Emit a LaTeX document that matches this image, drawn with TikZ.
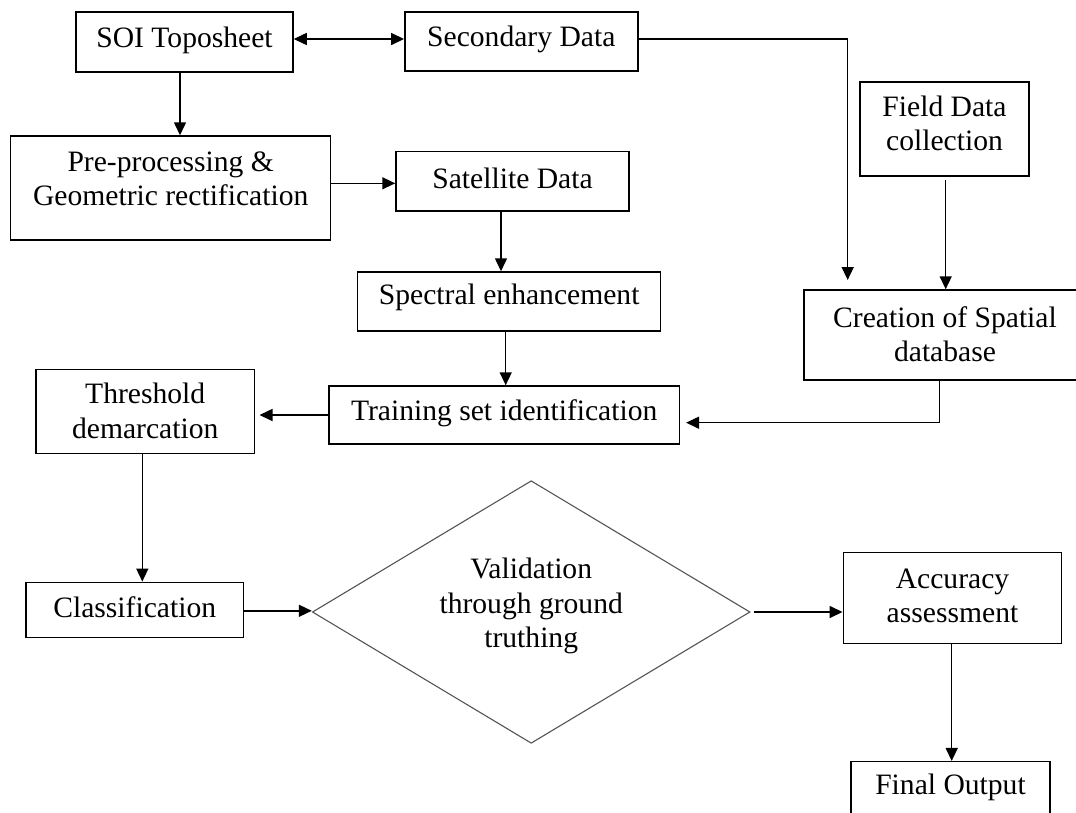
\documentclass[tikz,border=0pt]{standalone}
\usepackage{fontspec}
\setmainfont{Liberation Serif}
\usetikzlibrary{arrows.meta,shapes.geometric,calc}
\definecolor{diamgray}{HTML}{555555}
\begin{document}
\begin{tikzpicture}[x=1pt,y=-1pt,
  box/.style={draw=black, line width=1.5pt, rectangle, inner sep=0pt},
  txt/.style={align=center, font=\fontsize{29.6}{34.5}\selectfont, inner sep=0pt},
  arr/.style={line width=1.5pt, -{Triangle[length=13pt,width=12pt]}},
  biarr/.style={line width=1.5pt, {Triangle[length=13pt,width=12pt]}-{Triangle[length=13pt,width=12pt]}}
]
\useasboundingbox (0,0) rectangle (1076,812);
\fill[white] (0,0) rectangle (1076,812);
\clip (0,0) rectangle (1076,812);

% boxes
\node[box, minimum width=217pt, minimum height=60pt] (soi) at (184.5,42) {};
\node[box, minimum width=233pt, minimum height=59pt] (sec) at (521.3,41.3) {};
\node[box, minimum width=169pt, minimum height=94pt] (field) at (944.5,129) {};
\node[box, minimum width=320pt, minimum height=104pt] (pre) at (170.7,188) {};
\node[box, minimum width=233pt, minimum height=59.3pt] (sat) at (512.5,181.3) {};
\node[box, minimum width=303pt, minimum height=59pt] (spec) at (509.2,301.5) {};
\node[box, minimum width=282pt, minimum height=90pt] (creat) at (945,335) {};
\node[box, minimum width=218.3pt, minimum height=84pt] (thresh) at (145.2,411.3) {};
\node[box, minimum width=350.3pt, minimum height=58pt] (train) at (504.2,415) {};
\node[box, minimum width=217.3pt, minimum height=55pt] (class) at (134.7,609.8) {};
\node[draw=diamgray, line width=1.1pt, diamond, inner sep=0pt, aspect=1.667,
      minimum width=437.7pt, minimum height=262.6pt] (diam) at (531.2,612) {};
\node[box, minimum width=218.4pt, minimum height=91pt] (acc) at (952.5,597.8) {};
\node[box, minimum width=199pt, minimum height=60pt] (final) at (950.5,791.7) {};

% texts
\node[txt] (soit) at (184.5,40) {SOI Toposheet};
\node[txt] (sect) at (521.3,39) {Secondary Data};
\node[txt] (fieldt) at (944.5,123.5) {Field Data\\collection};
\node[txt] (pret) at (170.7,179) {Pre-processing \&\\Geometric rectification};
\node[txt] (satt) at (512.5,178) {Satellite Data};
\node[txt] (spect) at (509.2,297.5) {Spectral enhancement};
\node[txt] (creatt) at (945,334) {Creation of Spatial\\database};
\node[txt] (thresht) at (145.2,411) {Threshold\\demarcation};
\node[txt] (traint) at (504.2,413) {Training set identification};
\node[txt] (classt) at (134.7,607.5) {Classification};
\node[txt] (diamt) at (531.2,606.3) {Validation\\through ground\\truthing};
\node[txt] (acct) at (952.5,596) {Accuracy\\assessment};
\node[txt] (finalt) at (950.5,787.5) {Final Output};

\coordinate (secend) at (847.7,280);

% connectors
\draw[biarr] ([yshift=3pt]soi.east) -- ([yshift=3pt]soi.east -| sec.west);
\draw[arr] ([yshift=2.3pt]sec.east) -| (secend);
\draw[arr] ([xshift=1.2pt,yshift=-3pt]field.south) -- ([xshift=1.2pt]field.south |- creat.north);
\draw[arr] ([xshift=-5.7pt]creat.south) |- ([xshift=6pt,yshift=-7.7pt]train.east);
\draw[arr] ([xshift=-4.5pt]soi.south) -- ([xshift=-4.5pt]soi.south |- pre.north);
\draw[arr] ([yshift=4.7pt]pre.east) -- ([yshift=4.7pt]pre.east -| sat.west);
\draw[arr] ([xshift=-11.5pt]sat.south) -- ([xshift=-11.5pt]sat.south |- spec.north);
\draw[arr] ([xshift=-3.5pt]spec.south) -- ([xshift=-3.5pt]spec.south |- train.north);
\draw[arr] (train.west) -- ([xshift=4.4pt]train.west -| thresh.east);
\draw[arr] ([xshift=-2.9pt]thresh.south) -- ([xshift=-2.9pt]thresh.south |- class.north);
\draw[arr] ([yshift=-1pt]class.east) -- ([yshift=-1pt]class.east -| diam.west);
\draw[arr] ([xshift=3pt]diam.east) -- (diam.east -| acc.west);
\draw[arr] ([xshift=-0.8pt]acc.south) -- ([xshift=-0.8pt]acc.south |- final.north);
\end{tikzpicture}
\end{document}
